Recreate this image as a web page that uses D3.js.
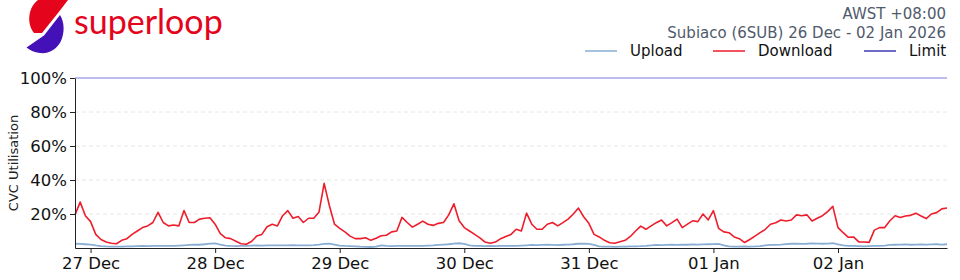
<!DOCTYPE html>
<html>
<head>
<meta charset="utf-8">
<script src="https://cdn.jsdelivr.net/npm/d3@7"></script>
<style>
  body { margin: 0; background: #fff; }
  svg { display: block; font-family: "DejaVu Sans", sans-serif; }
  .grid line { stroke: #e6e6e6; stroke-dasharray: 4,3; }
  .axis path, .axis line { stroke: #222; }
  .axis text { fill: #111; font-size: 16.5px; font-family: "DejaVu Sans", sans-serif; }
</style>
</head>
<body>
<svg></svg>
<script>
var width = 960;
var height = 280;

var margin = { "top": 78,
               "bottom": 32,
               "left": 75,
               "right": 13 };

// hourly readings, first one at 26 Dec 21:00
var startHour = Date.UTC(2025, 11, 26, 21);

var download = [19.5, 27, 19, 15.5, 8, 5, 3.5, 2.8, 2.5, 4.5, 5.5, 8, 10, 12, 13, 15, 21, 15, 13, 13.5, 13, 22, 15, 15, 17, 17.5, 17.8, 14,
                8.5, 6, 5.5, 4, 2.5, 2.2, 3.8, 7, 8, 12.5, 14, 13, 19, 22, 17.5, 18.5, 15, 17.5, 17.5, 21, 38, 25, 14, 11.5, 9.5, 7, 5.5, 5.5,
                6, 4.5, 5.7, 7.2, 7.5, 9.5, 10, 18, 15, 12.3, 14, 15.8, 14, 13.3, 14.5, 15, 19.5, 26, 16, 12, 10, 8, 6, 3.5, 2.8, 3.5, 5.5,
                6.8, 8, 11, 10, 20.5, 14, 11, 11, 14, 15, 13, 14.9, 17, 20, 23.5, 18.4, 14.5, 8, 6.5, 4.5, 3.1, 2.8, 3.7, 4.5, 6.8, 10, 12.9,
                11, 13, 14.9, 16.5, 13, 14.9, 17, 12, 14, 16, 15.5, 20, 16.5, 22, 11.5, 9.5, 9, 6.5, 5.5, 3.2, 5, 7, 9, 11, 14, 14.9, 16.5,
                15.9, 16.5, 19.5, 19, 19.5, 15.9, 17.5, 19, 21.4, 24.5, 12, 9, 6.3, 6.5, 3.6, 3.5, 3.3, 10.5, 12, 12, 16, 19, 18, 18.8, 19.2,
                20.5, 18.8, 17.3, 20, 20.8, 23, 23.5];

var upload = [2.5, 2.4, 2.2, 2.0, 1.5, 1.1, 0.9, 0.8, 0.8, 0.8, 0.9, 1.0, 1.1, 1.2, 1.1, 1.2, 1.3, 1.2, 1.3, 1.2, 1.4, 1.6, 1.8, 1.9, 1.9, 2.2, 2.6, 2.7,
              2.0, 1.4, 1.2, 1.1, 1.2, 1.2, 1.4, 1.5, 1.4, 1.5, 1.6, 1.5, 1.6, 1.5, 1.7, 1.6, 1.5, 1.6, 1.7, 2.0, 2.4, 2.6, 2.0, 1.4, 1.2, 1.1, 1.0, 0.8,
              0.7, 0.6, 0.8, 1.5, 1.2, 1.1, 1.2, 1.3, 1.2, 1.3, 1.2, 1.3, 1.4, 1.5, 1.8, 2.0, 2.2, 2.6, 2.8, 2.4, 1.6, 1.3, 1.2, 1.1, 1.2, 1.1, 1.2,
              1.2, 1.3, 1.2, 1.4, 1.6, 1.8, 1.7, 1.8, 1.9, 1.8, 1.7, 1.9, 2.0, 2.2, 2.5, 2.6, 2.4, 1.8, 1.0, 0.8, 0.8, 0.7, 0.8, 0.8, 0.9, 1.0, 1.1,
              1.3, 1.6, 1.8, 1.7, 1.8, 1.9, 1.8, 2.0, 1.9, 2.1, 2.0, 2.1, 2.2, 2.3, 2.4, 1.6, 1.0, 0.8, 0.8, 0.9, 0.8, 0.9, 1.1, 1.5, 1.8, 1.8, 2.0,
              2.3, 2.5, 2.6, 2.4, 2.5, 2.7, 2.6, 2.5, 2.6, 2.8, 2.2, 1.6, 1.3, 1.2, 1.1, 1.0, 1.1, 1.2, 1.3, 1.4, 1.8, 1.9, 2.0, 2.1, 1.9,
              2.0, 2.1, 2.0, 2.1, 2.2, 2.0, 2.2];

var limit = 100;

var dayTicks = [Date.UTC(2025, 11, 27), Date.UTC(2025, 11, 28), Date.UTC(2025, 11, 29), Date.UTC(2025, 11, 30),
                Date.UTC(2025, 11, 31), Date.UTC(2026, 0, 1), Date.UTC(2026, 0, 2)];
var yTicks = [20, 40, 60, 80, 100];

var seriesNames = ["Upload", "Download", "Limit"];
var seriesColors = ["#8aaed3", "#ee1d2b", "#3b3bb0"];

var titleLines = ["AWST +08:00", "Subiaco (6SUB) 26 Dec - 02 Jan 2026"];

var svg = d3.select("svg")
            .attr("width", width)
            .attr("height", height);

var plotW = width - margin.left - margin.right;
var plotH = height - margin.top - margin.bottom;

var scaleX = d3.scaleUtc()
               .domain([startHour, startHour + (download.length - 1) * 3600000])
               .range([0, plotW]);

var scaleY = d3.scaleLinear()
               .domain([0, 100])
               .range([plotH, 0]);

var g = svg.append("g")
           .attr("transform", "translate(" + margin.left + "," + margin.top + ")");

drawHeader();
drawLegend();
drawGrid();
drawLines();
drawAxes();

function drawHeader() {
    // logo mark
    var logo = svg.append("g");
    logo.append("path")
        .attr("d", "M38,0 L68,0 L58,13 L42,33 L34,33 C30,28 28.5,21 29.5,15 C30.5,8 34,3 38,0 Z")
        .attr("fill", "#e4051c");
    logo.append("path")
        .attr("d", "M60,15 C64.5,22 65,33 60.5,42 C56,50 48,54 40,53 C34,52.5 29.5,50 26.5,47.5 L44,35.5 Z")
        .attr("fill", "#4410b8");
    svg.append("text")
       .attr("x", 74)
       .attr("y", 34)
       .attr("fill", "#e4051c")
       .style("font-family", "Lato, sans-serif")
       .style("font-size", "34px")
       .text("superloop");

    svg.selectAll(".title")
       .data(titleLines)
       .enter()
       .append("text")
       .attr("class", "title")
       .attr("x", 946)
       .attr("y", function(d, i) { return 19 + i * 18.5; })
       .attr("text-anchor", "end")
       .attr("fill", "#505a6c")
       .style("font-size", "15px")
       .text(function(d) { return d; });
}

function drawLegend() {
    var xs = [585, 713, 864];
    var item = svg.selectAll(".legend")
                  .data(seriesNames)
                  .enter()
                  .append("g")
                  .attr("class", "legend")
                  .attr("transform", function(d, i) { return "translate(" + xs[i] + ",51)"; });
    item.append("line")
        .attr("x1", 0)
        .attr("x2", 32)
        .attr("stroke", function(d, i) { return seriesColors[i]; })
        .attr("stroke-width", 1.5);
    item.append("text")
        .attr("x", 45)
        .attr("y", 5)
        .attr("fill", "#111")
        .style("font-size", "15px")
        .text(function(d) { return d; });
}

function drawGrid() {
    g.append("g")
     .attr("class", "grid")
     .selectAll("line")
     .data(yTicks.slice(0, 4))
     .enter()
     .append("line")
     .attr("x1", 0)
     .attr("x2", plotW)
     .attr("y1", function(d) { return scaleY(d); })
     .attr("y2", function(d) { return scaleY(d); });
}

function drawLines() {
    var line = function(values) {
        return d3.line()
                 .x(function(d, i) { return scaleX(startHour + i * 3600000); })
                 .y(function(d) { return scaleY(d); })(values);
    };

    g.append("line")
     .attr("x1", 0)
     .attr("x2", plotW)
     .attr("y1", scaleY(limit))
     .attr("y2", scaleY(limit))
     .attr("stroke", "#5252d6")
     .attr("stroke-opacity", 0.75)
     .attr("stroke-width", 1.2);

    g.append("path")
     .attr("d", line(upload))
     .attr("fill", "none")
     .attr("stroke", seriesColors[0])
     .attr("stroke-width", 1.8);

    g.append("path")
     .attr("d", line(download))
     .attr("fill", "none")
     .attr("stroke", seriesColors[1])
     .attr("stroke-width", 1.6)
     .attr("stroke-linejoin", "round");
}

function drawAxes() {
    var xAxis = d3.axisBottom(scaleX)
                  .tickValues(dayTicks)
                  .tickFormat(d3.utcFormat("%d %b"))
                  .tickSizeInner(5)
                  .tickSizeOuter(0)
                  .tickPadding(4);

    g.append("g")
     .attr("class", "axis")
     .attr("transform", "translate(0," + plotH + ")")
     .call(xAxis);

    var yAxis = d3.axisLeft(scaleY)
                  .tickValues(yTicks)
                  .tickFormat(function(d) { return d + "%"; })
                  .tickSizeInner(5)
                  .tickSizeOuter(0)
                  .tickPadding(3);

    g.append("g")
     .attr("class", "axis")
     .call(yAxis);

    svg.append("text")
       .attr("transform", "translate(18," + (margin.top + plotH / 2) + ") rotate(-90)")
       .attr("text-anchor", "middle")
       .attr("fill", "#222")
       .style("font-size", "13px")
       .text("CVC Utilisation");
}
</script>
</body>
</html>
